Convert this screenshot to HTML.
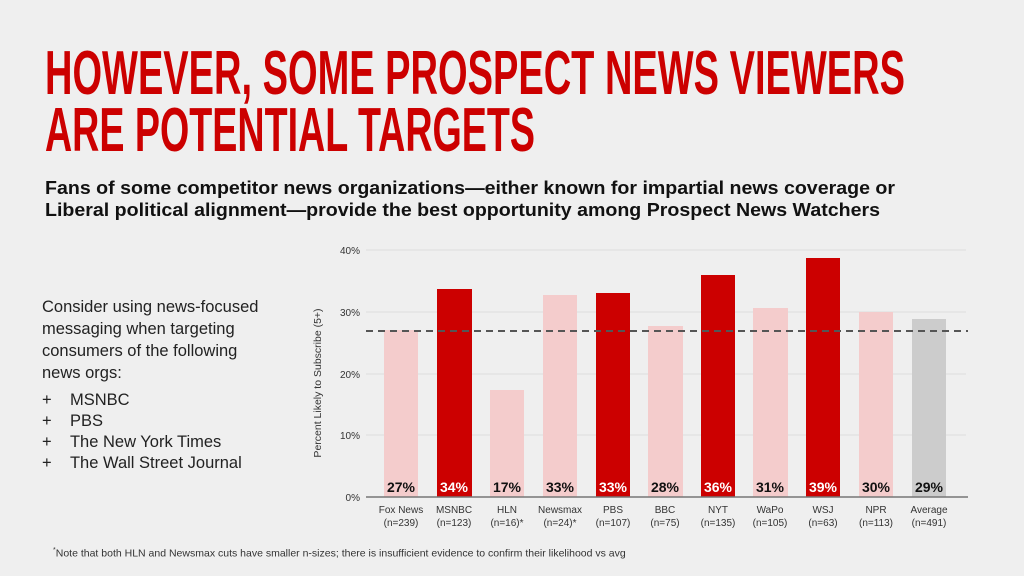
<!DOCTYPE html>
<html><head><meta charset="utf-8"><style>
body{margin:0;width:1024px;height:576px;background:#efefef;font-family:"Liberation Sans",sans-serif;position:relative;overflow:hidden}
.left{position:absolute;left:42px;top:296px;font-size:16.5px;line-height:22px;color:#222}
.b{position:absolute;left:42px;font-size:16.5px;color:#222}
.foot{position:absolute;left:53px;top:547px;font-size:10.5px;color:#333}
</style></head><body>
<div class="left">Consider using news-focused<br>messaging when targeting<br>consumers of the following<br>news orgs:</div>
<div class="b" style="top:391px">+&nbsp;&nbsp;&nbsp;&nbsp;MSNBC</div>
<div class="b" style="top:412px">+&nbsp;&nbsp;&nbsp;&nbsp;PBS</div>
<div class="b" style="top:433px">+&nbsp;&nbsp;&nbsp;&nbsp;The New York Times</div>
<div class="b" style="top:454px">+&nbsp;&nbsp;&nbsp;&nbsp;The Wall Street Journal</div>
<div class="foot"><sup style="font-size:7px">*</sup>Note that both HLN and Newsmax cuts have smaller n-sizes; there is insufficient evidence to confirm their likelihood vs avg</div>
<svg width="1024" height="576" style="position:absolute;left:0;top:0" font-family="Liberation Sans,sans-serif">
<g fill="#cc0000" font-weight="bold" font-size="62">
<text x="45" y="94" textLength="860" lengthAdjust="spacingAndGlyphs">HOWEVER, SOME PROSPECT NEWS VIEWERS</text>
<text x="45" y="151" textLength="490" lengthAdjust="spacingAndGlyphs">ARE POTENTIAL TARGETS</text>
</g>
<g fill="#111" font-weight="bold" font-size="18.5">
<text x="45" y="194" textLength="850" lengthAdjust="spacingAndGlyphs">Fans of some competitor news organizations—either known for impartial news coverage or</text>
<text x="45" y="216" textLength="835" lengthAdjust="spacingAndGlyphs">Liberal political alignment—provide the best opportunity among Prospect News Watchers</text>
</g>
<g stroke="#dedede" stroke-width="1">
<line x1="366" x2="966" y1="250" y2="250"/><line x1="366" x2="966" y1="312" y2="312"/><line x1="366" x2="966" y1="374" y2="374"/><line x1="366" x2="966" y1="435" y2="435"/>
</g>
<g font-size="10" fill="#333" text-anchor="end">
<text x="360" y="254">40%</text><text x="360" y="316">30%</text><text x="360" y="378">20%</text><text x="360" y="439">10%</text><text x="360" y="501">0%</text>
</g>
<text transform="translate(321,383) rotate(-90)" font-size="10.5" fill="#333" text-anchor="middle">Percent Likely to Subscribe (5+)</text>
<g>
<rect x="384" y="330" width="34" height="167" fill="#f4cccc"/>
<rect x="437" y="289" width="35" height="208" fill="#cc0000"/>
<rect x="490" y="390" width="34" height="107" fill="#f4cccc"/>
<rect x="543" y="295" width="34" height="202" fill="#f4cccc"/>
<rect x="596" y="293" width="34" height="204" fill="#cc0000"/>
<rect x="648" y="326" width="35" height="171" fill="#f4cccc"/>
<rect x="701" y="275" width="34" height="222" fill="#cc0000"/>
<rect x="753" y="308" width="35" height="189" fill="#f4cccc"/>
<rect x="806" y="258" width="34" height="239" fill="#cc0000"/>
<rect x="859" y="312" width="34" height="185" fill="#f4cccc"/>
<rect x="912" y="319" width="34" height="178" fill="#cccccc"/>
</g>
<line x1="366" x2="968" y1="331" y2="331" stroke="#555" stroke-width="2" stroke-dasharray="7,5"/>
<line x1="366" x2="968" y1="497" y2="497" stroke="#777" stroke-width="1.5"/>
<g font-size="14" font-weight="bold" text-anchor="middle">
<text x="401" y="492" fill="#111">27%</text><text x="454" y="492" fill="#fff">34%</text><text x="507" y="492" fill="#111">17%</text><text x="560" y="492" fill="#111">33%</text><text x="613" y="492" fill="#fff">33%</text><text x="665" y="492" fill="#111">28%</text><text x="718" y="492" fill="#fff">36%</text><text x="770" y="492" fill="#111">31%</text><text x="823" y="492" fill="#fff">39%</text><text x="876" y="492" fill="#111">30%</text><text x="929" y="492" fill="#111">29%</text>
</g>
<g font-size="10" fill="#333" text-anchor="middle">
<text x="401" y="513">Fox News</text><text x="401" y="526">(n=239)</text>
<text x="454" y="513">MSNBC</text><text x="454" y="526">(n=123)</text>
<text x="507" y="513">HLN</text><text x="507" y="526">(n=16)*</text>
<text x="560" y="513">Newsmax</text><text x="560" y="526">(n=24)*</text>
<text x="613" y="513">PBS</text><text x="613" y="526">(n=107)</text>
<text x="665" y="513">BBC</text><text x="665" y="526">(n=75)</text>
<text x="718" y="513">NYT</text><text x="718" y="526">(n=135)</text>
<text x="770" y="513">WaPo</text><text x="770" y="526">(n=105)</text>
<text x="823" y="513">WSJ</text><text x="823" y="526">(n=63)</text>
<text x="876" y="513">NPR</text><text x="876" y="526">(n=113)</text>
<text x="929" y="513">Average</text><text x="929" y="526">(n=491)</text>
</g>
</svg>
</body></html>
